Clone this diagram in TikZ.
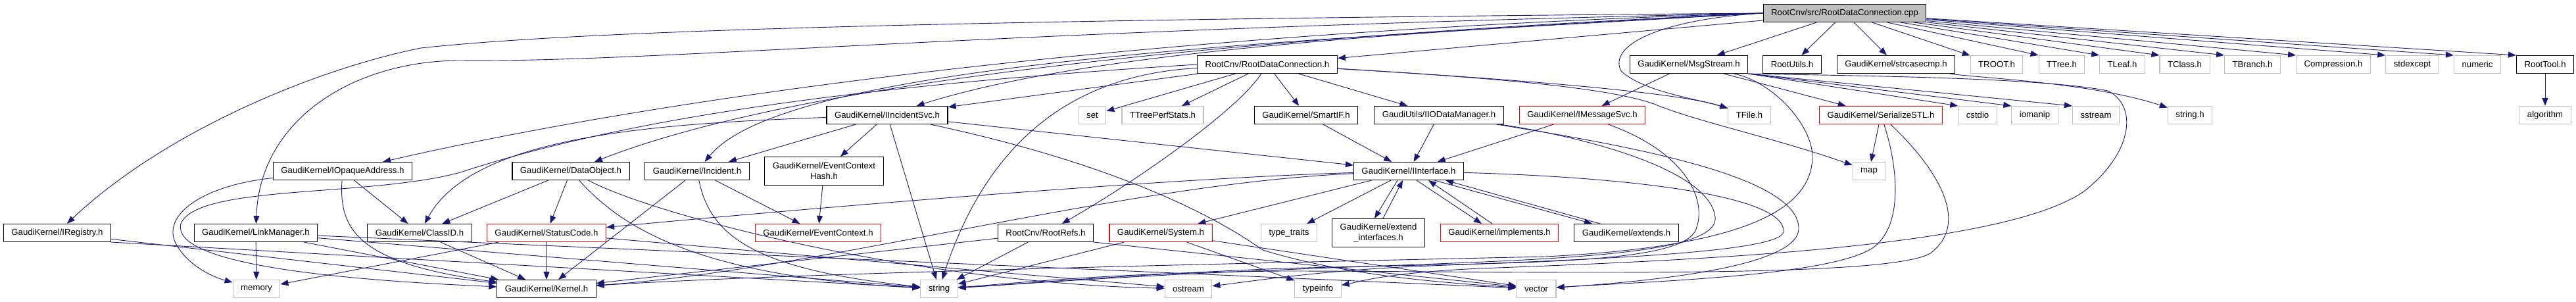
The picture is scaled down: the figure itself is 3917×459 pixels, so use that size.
\documentclass[tikz,border=0pt]{standalone}
\usepackage{fontspec}
\setmainfont{Liberation Sans}
\usetikzlibrary{arrows.meta}
\definecolor{edgeblue}{RGB}{25,25,112}
\definecolor{sysgray}{RGB}{191,191,191}

\begin{document}
\begin{tikzpicture}[
  x=0.5pt, y=-0.5pt,
  hdr/.style={draw, line width=0.55pt, minimum height=13.5pt, inner xsep=6pt, inner ysep=0pt, align=center, font=\fontsize{6.6}{8}\selectfont},
  sys/.style={hdr, draw=sysgray},
  cut/.style={hdr, draw=red},
  two/.style={minimum height=21.5pt},
  arrow/.style={-{Triangle[length=6pt,width=4.5pt]}, line width=0.45pt, edgeblue}
]
\useasboundingbox (0,0) rectangle (3917,459);

% Source file
\node[hdr, fill=sysgray] (rootcpp) at (2805,20) {RootCnv/src/RootDataConnection.cpp};

% Row 1: direct includes
\node[hdr] (rdc)     at (1927,98) {RootCnv/RootDataConnection.h};
\node[hdr] (msg)     at (2568,98) {GaudiKernel/MsgStream.h};
\node[hdr] (rutils)  at (2725,98) {RootUtils.h};
\node[hdr] (strcmp)  at (2883,98) {GaudiKernel/strcasecmp.h};
\node[sys] (troot)   at (3036,98) {TROOT.h};
\node[sys] (ttree)   at (3135,98) {TTree.h};
\node[sys] (tleaf)   at (3227,98) {TLeaf.h};
\node[sys] (tclass)  at (3322,98) {TClass.h};
\node[sys] (tbranch) at (3425,98) {TBranch.h};
\node[sys] (compr)   at (3548,98) {Compression.h};
\node[sys] (stdexc)  at (3668,98) {stdexcept};
\node[sys] (numeric) at (3767,98) {numeric};
\node[hdr] (rtool)   at (3870,98) {RootTool.h};

% Row 2
\node[hdr] (iincsvc) at (1349,175) {GaudiKernel/IIncidentSvc.h};
\node[sys] (set)     at (1661,175) {set};
\node[sys] (perfst)  at (1768,175) {TTreePerfStats.h};
\node[hdr] (smartif) at (1986,175) {GaudiKernel/SmartIF.h};
\node[hdr] (iiodm)   at (2188,175) {GaudiUtils/IIODataManager.h};
\node[cut] (imsg)    at (2406,175) {GaudiKernel/IMessageSvc.h};
\node[sys] (tfile)   at (2660,175) {TFile.h};
\node[cut] (serstl)  at (2860,175) {GaudiKernel/SerializeSTL.h};
\node[sys] (cstdio)  at (3007,175) {cstdio};
\node[sys] (iomanip) at (3094,175) {iomanip};
\node[sys] (sstream) at (3187,175) {sstream};
\node[sys] (stringh) at (3330,175) {string.h};
\node[sys] (algo)    at (3870,175) {algorithm};

% Row 3
\node[hdr] (iopaque)    at (521,260)  {GaudiKernel/IOpaqueAddress.h};
\node[hdr] (dataobj)    at (868,260)  {GaudiKernel/DataObject.h};
\node[hdr] (incident)   at (1060,260) {GaudiKernel/Incident.h};
\node[hdr, two] (evhash) at (1253,260) {GaudiKernel/EventContext\\Hash.h};
\node[hdr] (iinterface) at (2142,260) {GaudiKernel/IInterface.h};
\node[sys] (map)        at (2842,260) {map};

% Row 4
\node[hdr] (iregistry)  at (87,354)   {GaudiKernel/IRegistry.h};
\node[hdr] (linkmgr)    at (389,354)  {GaudiKernel/LinkManager.h};
\node[hdr] (classid)    at (638,354)  {GaudiKernel/ClassID.h};
\node[cut] (statuscode) at (831,354)  {GaudiKernel/StatusCode.h};
\node[cut] (evctx)      at (1244,354) {GaudiKernel/EventContext.h};
\node[hdr] (rootrefs)   at (1590,354) {RootCnv/RootRefs.h};
\node[cut] (system)     at (1765,354) {GaudiKernel/System.h};
\node[sys] (typetraits) at (1960,354) {type\_traits};
\node[hdr, two] (extif) at (2096,354) {GaudiKernel/extend\\\_interfaces.h};
\node[cut] (implements) at (2280,354) {GaudiKernel/implements.h};
\node[hdr] (extends)    at (2473,354) {GaudiKernel/extends.h};

% Row 5
\node[sys] (memory)   at (390,439)  {memory};
\node[hdr] (kernel)   at (831,439)  {GaudiKernel/Kernel.h};
\node[sys] (string)   at (1428,439) {string};
\node[sys] (ostream)  at (1807,439) {ostream};
\node[sys] (typeinfo) at (2004,439) {typeinfo};
\node[sys] (vector)   at (2336,439) {vector};

% Source file -> row 1
\foreach \dst in {rdc, msg, rutils, strcmp, troot}
  \draw[arrow] (rootcpp) -- (\dst);
\foreach \dst in {ttree, tleaf, tclass, tbranch, compr, stdexc, numeric, rtool}
  \draw[arrow] (rootcpp) -- (\dst.north west);

% Source file -> far nodes
\draw[arrow] (rootcpp.west) .. controls (1500,30) and (900,45) .. (640,73) .. controls (480,105) and (250,200) .. (iregistry);
\draw[arrow] (rootcpp.west) .. controls (1500,45) and (1000,95) .. (700,92) .. controls (540,92) and (395,180) .. (linkmgr);
\draw[arrow] (rootcpp.west) .. controls (1700,50) and (1000,150) .. (iopaque);
\draw[arrow] (rootcpp.west) .. controls (1800,60) and (1200,130) .. (dataobj);
\draw[arrow] (rootcpp.west) .. controls (2000,60) and (1200,90) .. (incident);
\draw[arrow] (rootcpp.west) .. controls (2100,50) and (1650,80) .. (iincsvc);
\draw[arrow] (rootcpp.west) .. controls (2520,30) and (2445,70) .. (2465,108) .. controls (2500,140) and (2580,150) .. (tfile);

% Straight includes
\foreach \src/\dst in {rtool/algo, rdc/iincsvc, rdc/set, rdc/perfst, rdc/smartif, rdc/iiodm,
    msg/imsg, msg/serstl, serstl/map, iincsvc/evhash, iincsvc/incident, iincsvc/string,
    iincsvc/iinterface, smartif/iinterface, iiodm/iinterface, imsg/iinterface,
    iinterface/typetraits, iinterface/system, iopaque/classid, dataobj/classid,
    dataobj/statuscode, incident/evctx, incident/kernel, evhash/evctx, classid/kernel,
    statuscode/kernel, statuscode/memory, statuscode/ostream, linkmgr/memory,
    linkmgr/kernel, linkmgr/string, linkmgr/vector, iregistry/kernel, rootrefs/string,
    rootrefs/kernel, system/string, system/typeinfo, system/vector}
  \draw[arrow] (\src) -- (\dst);
\draw[arrow] (iregistry.south east) -- (string);
\draw[arrow] (rootrefs.south east) -- (vector);
\foreach \dst in {cstdio, iomanip, sstream}
  \draw[arrow] (msg.south east) -- (\dst.north west);

% RootDataConnection.h
\draw[arrow] (rdc) .. controls (1880,170) and (1720,280) .. (rootrefs);
\draw[arrow] (rdc) .. controls (1600,115) and (1490,250) .. (string);
\draw[arrow] (rdc) .. controls (2300,120) and (2550,140) .. (tfile);
\draw[arrow] (rdc) .. controls (2300,120) and (2450,135) .. (2515,158) .. controls (2580,185) and (2700,210) .. (map);
\draw[arrow] (rdc.west) .. controls (1300,130) and (950,180) .. (700,262) .. controls (560,300) and (300,280) .. (275,340) .. controls (260,400) and (500,425) .. (kernel);

% IIncidentSvc.h, DataObject.h, Incident.h, IOpaqueAddress.h
\draw[arrow] (iincsvc) .. controls (1000,188) and (720,205) .. (classid);
\draw[arrow] (iincsvc) .. controls (1700,250) and (1850,330) .. (1920,380) .. controls (2050,420) and (2200,430) .. (vector);
\draw[arrow] (dataobj) .. controls (940,340) and (1050,420) .. (string);
\draw[arrow] (dataobj) .. controls (1000,330) and (1400,430) .. (ostream);
\draw[arrow] (incident) .. controls (1080,360) and (1150,410) .. (string);
\draw[arrow] (iopaque) .. controls (515,350) and (545,400) .. (kernel);
\draw[arrow] (iopaque) .. controls (320,280) and (250,320) .. (265,365) .. controls (280,400) and (320,420) .. (memory);

% IInterface.h
\draw[arrow] (iinterface) .. controls (1800,270) and (1300,310) .. (statuscode);
\draw[arrow] (iinterface) .. controls (1700,280) and (1250,410) .. (kernel);
\draw[arrow] (iinterface) .. controls (2500,270) and (2715,300) .. (2712,352) .. controls (2710,385) and (2400,395) .. (2150,405) .. controls (2000,412) and (1900,428) .. (ostream);
\draw[arrow] ([xshift=-8.5pt]iinterface.south) -- ([xshift=-3pt]extif.north);
\draw[arrow] ([xshift=3.5pt]extif.north) -- ([xshift=-4.5pt]iinterface.south);
\draw[arrow] ([xshift=6pt]iinterface.south) -- ([xshift=-13.5pt]implements.north);
\draw[arrow] ([xshift=-5.5pt]implements.north) -- ([xshift=15pt]iinterface.south);
\draw[arrow] ([xshift=19.5pt]iinterface.south) -- ([xshift=-26pt]extends.north);
\draw[arrow] ([xshift=-20pt]extends.north) -- ([xshift=28pt]iinterface.south);

% MsgStream.h, strcasecmp.h
\draw[arrow] (msg) .. controls (2700,125) and (2765,200) .. (2755,250) .. controls (2745,320) and (2650,375) .. (2350,390) .. controls (1900,400) and (1200,415) .. (kernel);
\draw[arrow] (msg.south east) .. controls (2800,115) and (3100,117) .. (3205,138) .. controls (3250,160) and (3245,230) .. (3170,290) .. controls (3050,375) and (2600,395) .. (2250,408) .. controls (2100,415) and (2060,430) .. (typeinfo);
\draw[arrow] (strcmp) .. controls (3000,118) and (3180,125) .. (stringh);

% SerializeSTL.h, IMessageSvc.h, IIODataManager.h
\draw[arrow] (serstl) .. controls (2885,250) and (2895,340) .. (2850,375) .. controls (2790,420) and (2500,428) .. (vector);
\draw[arrow] (serstl) .. controls (2960,270) and (2990,345) .. (2935,385) .. controls (2870,425) and (2300,412) .. (1950,412) .. controls (1700,414) and (1550,430) .. (string);
\draw[arrow] (imsg) .. controls (2560,230) and (2595,300) .. (2580,345) .. controls (2568,405) and (2300,398) .. (1950,408) .. controls (1700,418) and (1550,432) .. (string);
\draw[arrow] (iiodm) .. controls (2420,210) and (2600,260) .. (2608,330) .. controls (2615,395) and (2300,395) .. (1950,410) .. controls (1700,420) and (1550,432) .. (string);
\draw[arrow] (iiodm) .. controls (2500,225) and (2730,270) .. (2735,345) .. controls (2740,400) and (2550,425) .. (vector);

\end{tikzpicture}
\end{document}
